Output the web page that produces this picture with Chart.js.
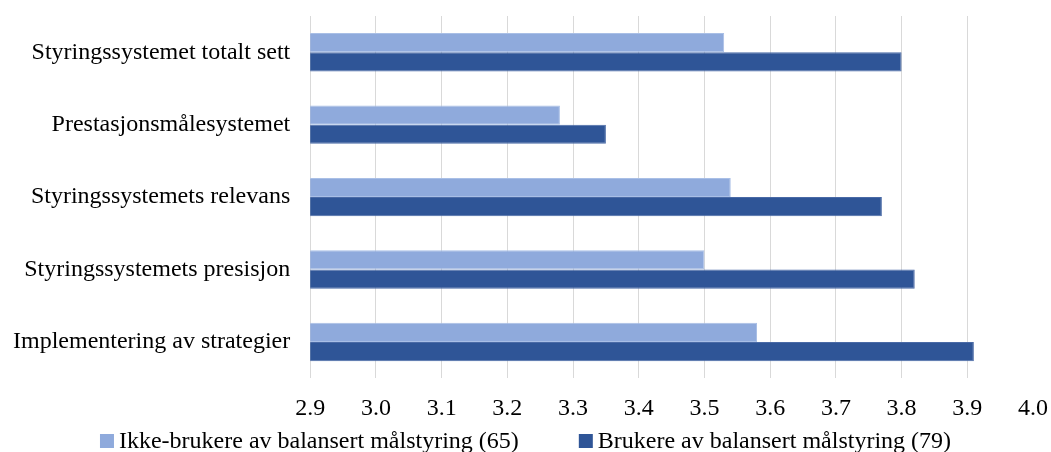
<!DOCTYPE html>
<html>
<head>
<meta charset="utf-8">
<script src="https://cdn.jsdelivr.net/npm/chart.js@4/dist/chart.umd.min.js"></script>
<style>
  html, body { margin: 0; padding: 0; background: #ffffff; }
  #wrap { width: 1051px; height: 452px; position: relative; }
</style>
</head>
<body>
<div id="wrap"><canvas id="c"></canvas></div>
<script>
// Areas assessed, listed top to bottom
const categories = [
  'Styringssystemet totalt sett',
  'Prestasjonsmålesystemet',
  'Styringssystemets relevans',
  'Styringssystemets presisjon',
  'Implementering av strategier'
];

// Mean scores per group
const nonUsers = [3.53, 3.28, 3.54, 3.50, 3.58];
const users    = [3.80, 3.35, 3.77, 3.82, 3.91];

const seriesNames = [
  'Ikke-brukere av balansert målstyring (65)',
  'Brukere av balansert målstyring (79)'
];

const seriesColors = ['#8faadc', '#2f5597'];
const seriesBorders = ['#a9bfe6', '#4a6aa6'];

// Value axis
const axisMin = 2.9;
const axisMax = 4.0;
const axisStep = 0.1;

const serif = '"Liberation Serif", "Times New Roman", serif';
const fontSize = 24;

// Bottom legend: square swatch + label per series, centred under the plot
const bottomLegend = {
  id: 'bottomLegend',
  afterDraw(chart) {
    const ctx = chart.ctx;
    const box = 14, gapText = 5, gapItems = 60;
    ctx.save();
    ctx.font = fontSize + 'px ' + serif;
    ctx.textBaseline = 'middle';
    ctx.textAlign = 'left';
    const items = chart.data.datasets.map(ds => ({
      text: ds.label,
      color: ds.backgroundColor,
      w: box + gapText + ctx.measureText(ds.label).width
    }));
    const total = items.reduce((s, it) => s + it.w, 0) + gapItems * (items.length - 1);
    let x = (chart.width - total) / 2;
    const y = 441;
    items.forEach(it => {
      ctx.fillStyle = it.color;
      ctx.fillRect(x, y - box / 2, box, box);
      ctx.fillStyle = '#000';
      ctx.fillText(it.text, x + box + gapText, y + 1);
      x += it.w + gapItems;
    });
    ctx.restore();
  }
};

new Chart(document.getElementById('c'), {
  type: 'bar',
  data: {
    labels: categories,
    datasets: [
      {
        label: seriesNames[0],
        data: nonUsers,
        backgroundColor: seriesColors[0],
        borderColor: seriesBorders[0],
        borderWidth: 1,
        barPercentage: 1.0,
        categoryPercentage: 0.53
      },
      {
        label: seriesNames[1],
        data: users,
        backgroundColor: seriesColors[1],
        borderColor: seriesBorders[1],
        borderWidth: 1,
        barPercentage: 1.0,
        categoryPercentage: 0.53
      }
    ]
  },
  plugins: [bottomLegend],
  options: {
    indexAxis: 'y',
    responsive: true,
    maintainAspectRatio: false,
    animation: false,
    layout: { padding: { top: 16, right: 0, bottom: 13, left: -3 } },
    scales: {
      x: {
        min: axisMin,
        max: axisMax,
        // leave just enough room on the right for the half-width of the "4.0" label
        afterFit: s => { s.paddingRight = 18; },
        ticks: {
          stepSize: axisStep,
          callback: v => Number(v).toFixed(1),
          color: '#000',
          font: { family: serif, size: fontSize },
          padding: 16
        },
        grid: {
          // no gridline at the closing 4.0 tick
          color: c => (c.tick && c.tick.value > axisMax - axisStep / 2) ? 'rgba(0,0,0,0)' : '#d9d9d9',
          lineWidth: 1,
          drawTicks: false
        },
        border: { display: false }
      },
      y: {
        ticks: {
          color: '#000',
          font: { family: serif, size: fontSize, lineHeight: 0 },
          padding: 16
        },
        grid: { display: false, drawTicks: true, tickLength: 4 },
        border: { display: false }
      }
    },
    plugins: {
      legend: { display: false },
      tooltip: { enabled: false }
    }
  }
});
</script>
</body>
</html>
